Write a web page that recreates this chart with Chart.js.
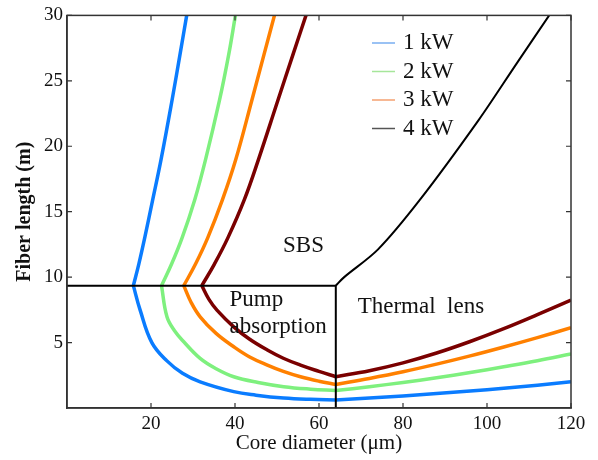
<!DOCTYPE html>
<html>
<head>
<meta charset="utf-8">
<script src="https://cdn.jsdelivr.net/npm/chart.js@4.4.0/dist/chart.umd.min.js"></script>
<style>
  body { margin: 0; background: #fff; }
  #wrap { width: 598px; height: 460px; }
</style>
</head>
<body>
<div id="wrap"><canvas id="fiberChart" width="598" height="460"></canvas></div>
<script>
// curve data (core diameter in um, fiber length in m)
// each curve: SBS branch (top -> kink), pump absorption branch (kink -> 64 um), thermal lens branch (64 -> 120 um)
const diam1kW = [28.5, 26.9, 25.0, 22.4, 20.4, 18.5, 17.1, 15.8, 17.4, 20.2, 23.8, 27.5, 31.7, 39.7, 45.0, 51.6, 58.0, 64.0, 72.0, 80.0, 88.0, 96.0, 104.0, 112.0, 120.0];
const len1kW  = [30.0, 27.0, 23.5, 19.0, 15.9, 13.0, 11.0, 9.35, 7.5, 5.0, 3.6, 2.65, 2.0, 1.25, 0.98, 0.76, 0.66, 0.62, 0.76, 0.92, 1.10, 1.30, 1.51, 1.74, 2.0];

const diam2kW = [40.1, 38.5, 36.3, 33.0, 30.4, 27.4, 24.9, 22.5, 23.8, 25.6, 27.8, 31.7, 35.5, 39.7, 45.5, 51.6, 58.0, 64.0, 72.0, 80.0, 88.0, 96.0, 104.0, 112.0, 120.0];
const len2kW  = [30.0, 27.0, 23.5, 19.0, 15.9, 13.0, 11.0, 9.35, 6.97, 5.9, 5.06, 3.79, 3.0, 2.39, 1.95, 1.63, 1.44, 1.33, 1.63, 1.95, 2.31, 2.71, 3.15, 3.61, 4.12];

const diam3kW = [49.4, 46.9, 44.0, 40.2, 37.0, 33.5, 30.6, 27.8, 29.5, 31.7, 35.5, 39.7, 43.5, 47.7, 51.5, 55.6, 60.0, 64.0, 72.0, 80.0, 88.0, 96.0, 104.0, 112.0, 120.0];
const len3kW  = [30.0, 27.0, 23.5, 19.0, 15.9, 13.0, 11.0, 9.35, 8.1, 6.97, 5.7, 4.68, 3.9, 3.28, 2.8, 2.39, 2.05, 1.8, 2.26, 2.77, 3.35, 3.98, 4.66, 5.38, 6.13];

const diam4kW = [56.9, 53.8, 50.2, 45.6, 42.2, 38.3, 35.1, 32.1, 33.8, 35.7, 39.7, 43.5, 47.7, 51.5, 55.6, 60.0, 64.0, 72.0, 80.0, 88.0, 96.0, 104.0, 112.0, 120.0];
const len4kW  = [30.0, 27.0, 23.5, 19.0, 15.9, 13.0, 11.0, 9.35, 8.3, 7.48, 6.2, 5.25, 4.43, 3.8, 3.28, 2.8, 2.39, 2.85, 3.45, 4.20, 5.08, 6.06, 7.13, 8.24];

// region boundaries
const boundDiam = [0, 64, 64];
const boundLen  = [9.35, 9.35, 0];
const sbsDiam = [64, 66, 74, 84, 98, 107, 114.8];
const sbsLen  = [9.35, 10.0, 12.1, 15.9, 22.0, 26.3, 30.0];

const powerLabels = ['1 kW', '2 kW', '3 kW', '4 kW'];
const powerColors = ['#0a7cff', '#7ef07e', '#ff8000', '#7a0000'];
const legendColors = ['#78aef0', '#a6e69a', '#f4a070', '#555555'];
const xTicks = [20, 40, 60, 80, 100, 120];
const yTicks = [5, 10, 15, 20, 25, 30];

function toPoints(xs, ys) {
    return xs.map(function(x, i) { return { x: x, y: ys[i] }; });
}

// split a curve at its kink (smallest diameter) and at the 64 um boundary
function branchDatasets(xs, ys, label, color) {
    const kink = xs.indexOf(Math.min.apply(null, xs));
    const mid = xs.indexOf(64);
    const pts = toPoints(xs, ys);
    const parts = [pts.slice(0, kink + 1), pts.slice(kink, mid + 1), pts.slice(mid)];
    return parts.map(function(p) {
        return { label: label, data: p, borderColor: color, borderWidth: 3.5, tension: 0.4, order: 1 };
    });
}

const serif = '"Liberation Serif", "Times New Roman", serif';

// inward tick marks + box frame
const frameTicks = {
    id: 'frameTicks',
    afterDraw(chart) {
        const ctx = chart.ctx;
        const a = chart.chartArea;
        const xs = chart.scales.x, ys = chart.scales.y;
        ctx.save();
        ctx.strokeStyle = '#333';
        ctx.lineWidth = 1.2;
        ctx.beginPath();
        xTicks.forEach(function(v) {
            const px = xs.getPixelForValue(v);
            ctx.moveTo(px, a.bottom); ctx.lineTo(px, a.bottom - 5);
            ctx.moveTo(px, a.top); ctx.lineTo(px, a.top + 5);
        });
        yTicks.forEach(function(v) {
            const py = ys.getPixelForValue(v);
            ctx.moveTo(a.left, py); ctx.lineTo(a.left + 5, py);
            ctx.moveTo(a.right, py); ctx.lineTo(a.right - 5, py);
        });
        ctx.stroke();
        ctx.lineWidth = 1.5;
        ctx.strokeRect(a.left, a.top, a.right - a.left, a.bottom - a.top);
        ctx.restore();
    }
};

// region labels and legend inside plot
const labelsAndLegend = {
    id: 'labelsAndLegend',
    afterDatasetsDraw(chart) {
        const ctx = chart.ctx;
        const xs = chart.scales.x, ys = chart.scales.y;
        ctx.save();
        ctx.fillStyle = '#111';
        ctx.font = '23px ' + serif;
        ctx.textBaseline = 'middle';
        ctx.textAlign = 'center';
        ctx.fillText('SBS', xs.getPixelForValue(56.3), ys.getPixelForValue(12.4));
        ctx.textAlign = 'left';
        ctx.fillText('Pump', xs.getPixelForValue(38.7), ys.getPixelForValue(8.24));
        ctx.fillText('absorption', xs.getPixelForValue(38.7), ys.getPixelForValue(6.18));
        ctx.fillText('Thermal  lens', xs.getPixelForValue(69.2), ys.getPixelForValue(7.73));

        // legend
        powerLabels.forEach(function(lbl, i) {
            const y = 43 + i * 28.5;
            ctx.strokeStyle = legendColors[i];
            ctx.lineWidth = 1.5;
            ctx.beginPath();
            ctx.moveTo(372, y); ctx.lineTo(395, y);
            ctx.stroke();
            ctx.fillStyle = '#111';
            ctx.fillText(lbl, 403, y);
        });
        ctx.restore();
    }
};

const curveSets = [].concat(
    branchDatasets(diam1kW, len1kW, powerLabels[0], powerColors[0]),
    branchDatasets(diam2kW, len2kW, powerLabels[1], powerColors[1]),
    branchDatasets(diam3kW, len3kW, powerLabels[2], powerColors[2]),
    branchDatasets(diam4kW, len4kW, powerLabels[3], powerColors[3])
);

const ctxFiber = document.getElementById('fiberChart').getContext('2d');
const fiberChart = new Chart(ctxFiber, {
    type: 'scatter',
    data: {
        datasets: [
            { label: 'boundary', data: toPoints(boundDiam, boundLen), borderColor: '#000', borderWidth: 2, tension: 0, order: 0 },
            { label: 'SBS', data: toPoints(sbsDiam, sbsLen), borderColor: '#000', borderWidth: 2, tension: 0.3, order: 0 }
        ].concat(curveSets)
    },
    options: {
        responsive: false,
        animation: false,
        devicePixelRatio: 1,
        showLine: true,
        elements: { point: { radius: 0, hoverRadius: 0 }, line: { fill: false } },
        layout: { padding: { top: 15, right: 27, left: 0, bottom: 0 } },
        plugins: { legend: { display: false }, tooltip: { enabled: false } },
        scales: {
            x: {
                type: 'linear', min: 0, max: 120,
                afterFit: function(s) { s.height = 52; },
                grid: { display: false, drawTicks: false },
                border: { display: true, color: '#333', width: 1.5 },
                afterBuildTicks: function(s) { s.ticks = xTicks.map(function(v) { return { value: v }; }); },
                ticks: { color: '#111', padding: 5, font: { family: serif, size: 19 } },
                title: { display: true, text: 'Core diameter (\u03bcm)', color: '#111', font: { family: serif, size: 21 }, padding: { top: 0, bottom: 4 } }
            },
            y: {
                type: 'linear', min: 0, max: 30,
                afterFit: function(s) { s.width = 67; },
                grid: { display: false, drawTicks: false },
                border: { display: true, color: '#333', width: 1.5 },
                afterBuildTicks: function(s) { s.ticks = yTicks.map(function(v) { return { value: v }; }); },
                ticks: { color: '#111', padding: 4, font: { family: serif, size: 19 } },
                title: { display: true, text: 'Fiber length (m)', color: '#111', font: { family: serif, size: 20, weight: 'bold' }, padding: { top: 13, bottom: 0 } }
            }
        }
    },
    plugins: [frameTicks, labelsAndLegend]
});
</script>
</body>
</html>
